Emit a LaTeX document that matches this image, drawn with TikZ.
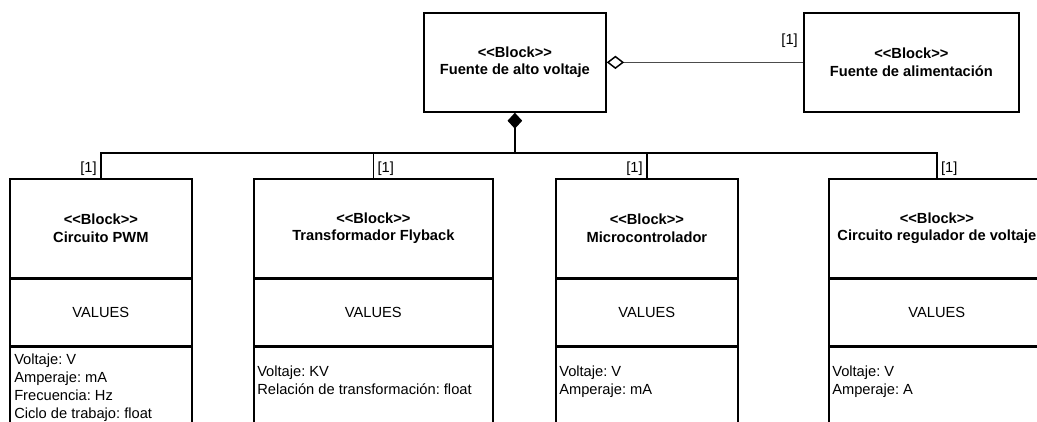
\documentclass[tikz,border=0pt]{standalone}
\usepackage{fontspec}
\setmainfont{Liberation Sans}
\usetikzlibrary{arrows.meta}

\newcommand\blkst{\textless\kern0pt\textless\kern0pt Block\kern0pt\textgreater\kern0pt\textgreater}

\begin{document}
\frenchspacing
\begin{tikzpicture}[x=0.75pt,y=-0.75pt,
  every node/.style={font=\fontsize{11}{13.5}\selectfont},
  blkbox/.style 2 args={draw, line width=1.3pt, rectangle, inner sep=0pt,
    anchor=north west, minimum width=#1*0.75pt, minimum height=#2*0.75pt,
    align=center},
  head/.style={font=\fontsize{11}{13}\selectfont\bfseries},
  attrs/.style={anchor=north west, align=left, inner sep=0pt},
  mult/.style={inner sep=0pt},
  conn/.style={line width=1.3pt}
]
\useasboundingbox (0,0) rectangle (1037,421);
\clip (0,0) rectangle (1037,421);
\fill[white] (0,0) rectangle (1037,421);

% top level blocks
\node[blkbox={182}{99}, head] (alto) at (423,12) {\blkst\\Fuente de alto voltaje};
\node[blkbox={215}{99}, head] (alim) at (803,12) {\blkst\\Fuente de alimentación};

% PWM circuit
\node[blkbox={182}{99}, head] (pwm) at (9,178) {\blkst\\Circuito PWM};
\node[blkbox={182}{66}] (pwmv) at (pwm.south west) {VALUES};
\node[blkbox={182}{120}] (pwma) at (pwmv.south west) {};
\node[attrs] (pwmt) at (14,354) {Voltaje: V\\Amperaje: mA\\Frecuencia: Hz\\Ciclo de trabajo: float};

% flyback transformer
\node[blkbox={239}{99}, head] (fly) at (253,178) {\blkst\\Transformador Flyback};
\node[blkbox={239}{66}] (flyv) at (fly.south west) {VALUES};
\node[blkbox={239}{120}] (flya) at (flyv.south west) {};
\node[attrs] (flyt) at (257,366) {Voltaje: KV\\Relación de transformación: float};

% microcontroller
\node[blkbox={182}{99}, head] (mcu) at (555,178) {\blkst\\Microcontrolador};
\node[blkbox={182}{66}] (mcuv) at (mcu.south west) {VALUES};
\node[blkbox={182}{120}] (mcua) at (mcuv.south west) {};
\node[attrs] (mcut) at (559,366) {Voltaje: V\\Amperaje: mA};

% voltage regulator
\node[blkbox={216}{99}, head] (reg) at (828,178) {\blkst\\Circuito regulador de voltaje};
\node[blkbox={216}{66}] (regv) at (reg.south west) {VALUES};
\node[blkbox={216}{120}] (rega) at (regv.south west) {};
\node[attrs] (regt) at (832,366) {Voltaje: V\\Amperaje: A};

% composition
\coordinate (bus) at (alto.south |- 0,153);
\draw[conn, {Diamond[length=12pt,width=11pt]}-] (alto.south) -- (bus);
\draw[conn] (bus) -| (pwm.north);
\draw[conn] (bus) -| (fly.north);
\draw[conn] (bus) -| (mcu.north);
\draw[conn] (bus) -| (reg.north);

% aggregation
\draw[line width=0.8pt, black!70, {Diamond[open,color=black,line width=1.1pt,length=13pt,width=10pt]}-] (alto.east) -- (alim.west);

% multiplicities
\node[mult, anchor=south east] (m1) at ([shift={(-4,-2)}]pwm.north) {[1]};
\node[mult, anchor=south west] (m2) at ([shift={(4,-2)}]fly.north) {[1]};
\node[mult, anchor=south east] (m3) at ([shift={(-4,-2)}]mcu.north) {[1]};
\node[mult, anchor=south west] (m4) at ([shift={(4,-2)}]reg.north) {[1]};
\node[mult, anchor=south east] (m5) at ([shift={(-5,-15)}]alim.west) {[1]};
\end{tikzpicture}
\end{document}
